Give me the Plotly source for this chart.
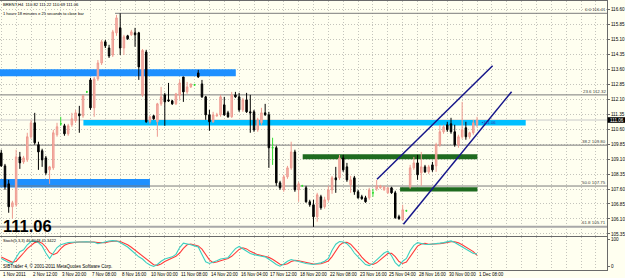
import plotly.graph_objects as go

# ---------------- data ----------------
bar_open = [109.41,108.76,107.86,106.71,106.81,109.21,108.96,109.06,110.22,110.92,
            109.82,109.52,109.16,108.56,108.66,110.32,110.87,110.77,110.37,110.82,
            111.02,111.37,111.27,112.47,113.07,111.67,113.12,113.92,114.98,114.67,
            114.32,115.43,115.68,114.67,115.28,115.33,115.43,115.43,112.32,114.47,
            110.97,111.27,110.97,111.87,112.32,112.07,112.02,111.87,112.32,113.22,
            112.47,112.72,112.82,113.42,112.87,112.22,111.32,110.97,111.27,111.32,
            111.82,111.42,111.22,112.32,112.22,111.57,112.07,111.47,111.47,110.57,
            110.92,111.42,111.32,109.67,109.67,107.91,107.56,108.21,108.66,109.46,
            107.56,107.76,107.66,106.96,106.81,106.21,107.21,106.71,107.06,107.56,
            108.16,108.16,109.16,108.71,107.81,108.16,107.46,107.21,107.16,107.16,
            107.41,107.61,107.66,107.56,107.41,107.66,107.41,106.21,106.06,106.51,
            107.71,108.66,108.91,108.41,108.71,108.46,108.81,108.76,109.82,110.47,
            110.82,110.87,110.47,109.82,110.22,110.67,110.22,110.42,110.82]
bar_high = [109.57,108.86,108.06,107.01,109.57,109.46,109.26,110.42,111.07,111.42,
            109.97,109.62,109.26,108.76,110.57,110.92,111.22,110.87,110.87,111.42,
            111.57,111.77,112.32,112.52,113.17,113.22,114.07,115.08,115.08,114.83,
            115.58,116.33,116.41,115.33,115.33,115.58,115.68,115.48,114.62,114.58,
            111.27,111.32,111.92,112.72,112.42,112.92,112.07,112.42,113.07,113.22,
            112.97,112.87,112.87,113.57,113.07,112.27,111.57,111.47,111.42,112.32,
            112.22,111.52,112.47,112.47,112.42,112.17,112.42,112.32,111.57,111.17,
            111.67,111.87,111.47,110.17,109.77,108.01,108.31,108.76,109.97,109.57,
            107.96,107.81,107.76,107.06,107.06,107.41,107.31,107.21,107.76,108.26,
            108.71,109.31,109.31,108.91,108.26,108.26,107.56,107.31,107.26,107.66,
            107.61,108.06,107.81,107.76,107.71,107.71,107.51,106.31,106.81,106.56,
            108.81,109.21,109.31,109.46,108.81,108.81,108.96,109.92,110.82,110.82,
            110.97,111.17,110.82,110.32,111.97,110.97,110.47,111.07,111.22]
bar_low = [108.71,107.56,106.41,106.11,106.71,108.61,108.86,108.96,110.12,109.82,
           108.56,108.71,108.31,107.86,108.56,110.22,110.77,110.27,110.27,110.72,
           110.92,110.42,111.17,112.42,111.57,111.22,113.02,113.82,114.67,114.17,
           114.22,115.28,114.32,114.32,115.08,115.28,114.73,113.07,112.22,110.92,
           110.87,111.07,110.22,111.77,110.77,111.97,111.82,111.82,112.07,111.97,
           112.37,112.67,112.77,113.17,112.17,111.07,110.52,110.92,111.22,111.22,
           111.27,111.17,111.17,112.17,111.47,111.47,111.42,110.42,110.47,110.47,
           110.82,111.27,108.66,108.81,107.76,107.56,107.46,108.11,108.56,107.46,
           106.96,107.71,106.91,106.71,105.70,105.96,106.56,106.61,106.96,107.36,
           107.41,108.06,108.46,107.96,107.41,107.31,107.11,107.06,106.91,107.06,
           107.21,107.51,107.61,107.51,107.36,107.36,106.11,106.06,106.01,106.46,
           107.61,108.56,108.06,107.76,108.41,108.36,108.46,108.46,109.72,110.37,
           110.47,110.37,109.72,109.67,110.12,110.07,110.12,110.32,110.69]
bar_close = [108.76,107.71,106.71,106.91,109.21,108.91,109.16,110.22,110.92,109.92,
             109.46,109.06,108.41,108.71,110.42,110.72,110.87,110.37,110.77,111.12,
             111.42,111.27,112.27,112.47,111.67,113.12,113.92,114.98,114.78,114.27,
             115.48,116.18,114.67,115.23,115.13,115.48,115.33,113.72,114.55,110.97,
             111.22,111.12,111.87,112.22,111.97,112.02,111.87,112.37,112.92,112.47,
             112.72,112.87,112.82,113.22,112.22,111.32,110.97,111.32,111.32,112.22,
             111.32,111.22,112.32,112.22,111.57,112.07,111.47,111.42,110.57,111.07,
             111.42,111.32,109.67,109.67,107.91,107.66,108.21,108.66,109.46,107.56,
             107.86,107.76,106.96,106.81,106.21,107.31,106.66,107.06,107.56,108.16,
             108.06,109.16,108.56,108.06,108.06,107.46,107.16,107.11,106.96,107.56,
             107.41,107.76,107.76,107.71,107.66,107.41,106.16,106.11,106.56,106.51,
             108.66,108.91,108.31,108.71,108.46,108.71,108.56,109.82,110.47,110.72,
             110.57,110.47,109.82,110.22,110.57,110.22,110.42,110.92,111.06]

stoch_main = [30,22,15,12,35,55,62,80,92,94,88,75,50,30,50,70,80,84,88,89,
              90,90,91,91,90,89,84,88,92,94,95,94,88,80,72,60,48,36,28,15,
              6,1,8,20,28,32,36,45,70,86,84,80,76,72,45,18,12,16,22,28,
              30,33,50,66,74,66,55,48,44,40,38,36,28,18,8,2,10,20,26,22,
              18,16,12,10,8,12,14,20,30,60,82,92,90,84,70,50,36,20,8,4,
              12,25,38,50,57,40,15,2,20,30,58,78,88,84,82,81,82,84,86,88,
              92,94,88,80,72,62,55,48,46.8048]
stoch_signal = [35,28,20,16,20,34,50,66,78,88,91,86,72,52,44,50,66,78,84,87,
                89,90,90,91,91,90,88,87,88,91,93,94,92,87,80,71,60,48,37,26,
                16,7,5,10,19,27,32,38,50,67,80,83,80,76,64,45,25,15,17,22,
                27,30,38,50,63,69,65,56,49,44,41,38,34,27,18,9,7,11,19,23,
                22,19,15,13,10,10,11,15,21,37,57,78,88,89,82,68,52,35,21,11,
                8,14,25,38,48,49,37,19,12,17,36,55,75,83,85,82,82,82,84,86,
                89,91,91,87,80,71,63,55,41.3422]

x_tick_labels = ["1 Nov 2011", "2 Nov 12:00", "3 Nov 20:00", "7 Nov 08:00", "8 Nov 16:00",
                 "10 Nov 00:00", "11 Nov 08:00", "14 Nov 20:00", "16 Nov 04:00", "17 Nov 12:00",
                 "18 Nov 20:00", "22 Nov 08:00", "23 Nov 16:00", "25 Nov 04:00", "28 Nov 16:00",
                 "30 Nov 00:00", "1 Dec 08:00"]
x_tick_bars = [0, 8, 16, 24, 32, 40, 48, 56, 64, 72, 80, 88, 96, 104, 112, 120, 128]
price_ticks = [116.60, 115.85, 115.10, 114.35, 113.60, 112.85, 112.10, 111.35,
               110.60, 109.85, 109.10, 108.35, 107.60, 106.85, 106.10, 105.35]

fib_names = ["0.0", "23.6", "38.2", "50.0", "61.8"]
fib_prices = [116.41, 112.32, 109.80, 107.75, 105.71]
fib_start_bar = [30.6, -0.4, -0.4, -0.4, -0.4]

zone_bar0 = [-0.4, 22.1, -0.4, 81.1, 107.3]
zone_bar1 = [63.1, 141.1, 40.0, 128.1, 128.1]
zone_low = [113.25, 110.78, 107.68, 109.09, 107.47]
zone_high = [113.60, 111.06, 108.10, 109.34, 107.69]
zone_color = ["#1E90FF", "#00BFFF", "#1E90FF", "#1F6B1F", "#1F6B1F"]

chan_bar0 = [101.1, 108.2]
chan_price0 = [108.09, 105.83]
chan_bar1 = [132.2, 137.3]
chan_price1 = [113.78, 112.48]

symbol = "BRENT,H4"
last_price = 111.06
stoch_label = "Stoch(5,3,3) 46.8048 41.3422"

# ---------------- figure ----------------
X_MIN, X_MAX = -0.34, 162.97
Y_MIN, Y_MAX = 105.244, 117.027
S_MIN, S_MAX = -12.0, 108.4
BG = "#FFFFF0"
GRID = "#C4C4BC"
FRAME = "#6A6A6A"
FONT = "Liberation Sans, Arial, sans-serif"

n = len(bar_open)
bull = [i for i in range(n) if bar_close[i] > bar_open[i]]
bear = [i for i in range(n) if bar_close[i] < bar_open[i]]
doji = [i for i in range(n) if bar_close[i] == bar_open[i]]


def candles(idx, fill, line):
    return go.Candlestick(
        x=idx,
        open=[bar_open[i] for i in idx], high=[bar_high[i] for i in idx],
        low=[bar_low[i] for i in idx], close=[bar_close[i] for i in idx],
        increasing=dict(fillcolor=fill, line=dict(color=line, width=1)),
        decreasing=dict(fillcolor=fill, line=dict(color=line, width=1)),
        whiskerwidth=0, hoverinfo="skip", showlegend=False,
        xaxis="x", yaxis="y")


fig = go.Figure()
fig.add_trace(candles(bull, "#F6B9B0", "#EE9B90"))
fig.add_trace(candles(bear, "#000000", "#000000"))
fig.add_trace(candles(doji, "#33DD33", "#33DD33"))

fig.add_trace(go.Scatter(x=list(range(n)), y=stoch_signal, mode="lines",
                         line=dict(color="#FF3B3B", width=1.1), xaxis="x2", yaxis="y2",
                         showlegend=False, hoverinfo="skip"))
fig.add_trace(go.Scatter(x=list(range(n)), y=stoch_main, mode="lines",
                         line=dict(color="#3CCFC0", width=1.1), xaxis="x2", yaxis="y2",
                         showlegend=False, hoverinfo="skip"))

shapes = []
for b0, b1, lo, hi, c in zip(zone_bar0, zone_bar1, zone_low, zone_high, zone_color):
    shapes.append(dict(type="rect", xref="x", yref="y", x0=b0, x1=b1, y0=lo, y1=hi,
                       fillcolor=c, line=dict(width=0), layer="between"))
for p, b0, name in zip(fib_prices, fib_start_bar, fib_names):
    wide = name == "61.8"
    shapes.append(dict(type="line", xref="x", yref="y", x0=b0, x1=X_MAX, y0=p, y1=p,
                       line=dict(color="#A8A8A8" if wide else "#7C7C7C", width=2 if wide else 1),
                       layer="between"))
# bid line
shapes.append(dict(type="line", xref="x", yref="y", x0=X_MIN, x1=X_MAX, y0=last_price, y1=last_price,
                   line=dict(color="#C8C8C8", width=1), layer="below"))
for b0, p0, b1, p1 in zip(chan_bar0, chan_price0, chan_bar1, chan_price1):
    shapes.append(dict(type="line", xref="x", yref="y", x0=b0, y0=p0, x1=b1, y1=p1,
                       line=dict(color="#16168A", width=1.5), layer="above"))
# price box on the right scale
shapes.append(dict(type="rect", xref="paper", yref="y", x0=1.001, x1=1.031,
                   y0=last_price - 0.14, y1=last_price + 0.14,
                   fillcolor="#000000", line=dict(width=0), layer="above"))

ann = []
small = dict(family=FONT, size=4.5, color="#000000")
for b, t in zip(x_tick_bars, x_tick_labels):
    ann.append(dict(x=b, xref="x2", y=0, yref="paper", text=t, showarrow=False,
                    xanchor="left", yanchor="middle", yshift=-4.5, xshift=0.5,
                    borderpad=0, font=small))
for name, p in zip(fib_names, fib_prices):
    ann.append(dict(x=1, xref="paper", y=p, yref="y", text=f"{name} {p:.2f}", showarrow=False,
                    xanchor="right", yanchor="bottom", yshift=0.3, borderpad=0,
                    font=dict(family=FONT, size=4.4, color="#3A3A3A")))
ann.append(dict(x=1.003, xref="paper", y=last_price, yref="y", text=f"{last_price:.2f}",
                showarrow=False, xanchor="left", yanchor="middle", borderpad=0,
                font=dict(family=FONT, size=4.6, color="#FFFFFF")))
# small label at the end of the sky-blue zone
ann.append(dict(x=129.2, xref="x", y=(zone_low[1] + zone_high[1]) / 2, yref="y",
                text=f"\u25aa{last_price:.2f}", showarrow=False, xanchor="left", yanchor="middle",
                borderpad=0, font=dict(family=FONT, size=4.2, color="#3535B0")))
ann.append(dict(x=0.003, xref="paper", y=0.9888, yref="paper",
                text=f"{symbol}  {bar_open[-1]:.2f} {bar_high[-1]:.2f} {bar_low[-1]:.2f} {bar_close[-1]:.2f}",
                showarrow=False, xanchor="left", yanchor="middle", borderpad=0,
                font=dict(family=FONT, size=4.2, color="#000000")))
ann.append(dict(x=0.004, xref="paper", y=0.9535, yref="paper",
                text="1 hours 18 minutes e 25 seconds to close bar",
                showarrow=False, xanchor="left", yanchor="middle", borderpad=0,
                font=dict(family=FONT, size=4.0, color="#000000")))
ann.append(dict(x=0.004, xref="paper", y=0.1654, yref="paper", text=f"<b>{last_price:.2f}</b>",
                showarrow=False, xanchor="left", yanchor="middle", borderpad=0,
                font=dict(family=FONT, size=16.5, color="#000000")))
ann.append(dict(x=0.003, xref="paper", y=0.1115, yref="paper", text=stoch_label,
                showarrow=False, xanchor="left", yanchor="middle", borderpad=0,
                font=dict(family=FONT, size=4.0, color="#000000")))
ann.append(dict(x=0.003, xref="paper", y=0.016, yref="paper",
                text="SIBTrader 4, \u00a9 2001-2011 MetaQuotes Software Corp.",
                showarrow=False, xanchor="left", yanchor="middle", borderpad=0,
                font=dict(family=FONT, size=4.5, color="#000000")))

grid_bars = list(range(0, 164, 4))

fig.update_layout(
    width=625, height=278,
    margin=dict(l=0, r=18, t=1, b=8, pad=0),
    paper_bgcolor=BG, plot_bgcolor=BG,
    showlegend=False,
    boxgap=0.6, boxgroupgap=0,
    shapes=shapes, annotations=ann,
    font=dict(family=FONT, size=4.5, color="#000000"),
    xaxis=dict(domain=[0, 1], anchor="y", range=[X_MIN, X_MAX], tickmode="array",
               tickvals=grid_bars, showticklabels=False, ticks="",
               showgrid=True, gridcolor=GRID, griddash="1px,2px", gridwidth=1,
               showline=True, linecolor=FRAME, linewidth=1, mirror=True, zeroline=False,
               rangeslider=dict(visible=False), fixedrange=True),
    yaxis=dict(domain=[34 / 269, 1], anchor="x", range=[Y_MIN, Y_MAX], side="right",
               tickmode="array", tickvals=price_ticks, ticktext=[f"{v:.2f}" for v in price_ticks],
               ticks="outside", ticklen=2, tickcolor=FRAME, tickfont=dict(family=FONT, size=4.6),
               showgrid=True, gridcolor=GRID, griddash="1px,2px", gridwidth=1,
               showline=True, linecolor=FRAME, linewidth=1, mirror=True, zeroline=False,
               fixedrange=True),
    xaxis2=dict(domain=[0, 1], anchor="y2", range=[X_MIN, X_MAX], tickmode="array",
                tickvals=grid_bars, showticklabels=False, ticks="",
                showgrid=True, gridcolor=GRID, griddash="1px,2px", gridwidth=1,
                showline=True, linecolor=FRAME, linewidth=1, mirror=True, zeroline=False,
                fixedrange=True),
    yaxis2=dict(domain=[0, 33 / 269], anchor="x2", range=[S_MIN, S_MAX], side="right",
                tickmode="array", tickvals=[0, 100], ticktext=["0", "100"],
                ticks="outside", ticklen=2, tickcolor=FRAME, tickfont=dict(family=FONT, size=4.6),
                showgrid=False, showline=True, linecolor=FRAME, linewidth=1, mirror=True,
                zeroline=False, fixedrange=True),
)

fig.write_html("out.html")
